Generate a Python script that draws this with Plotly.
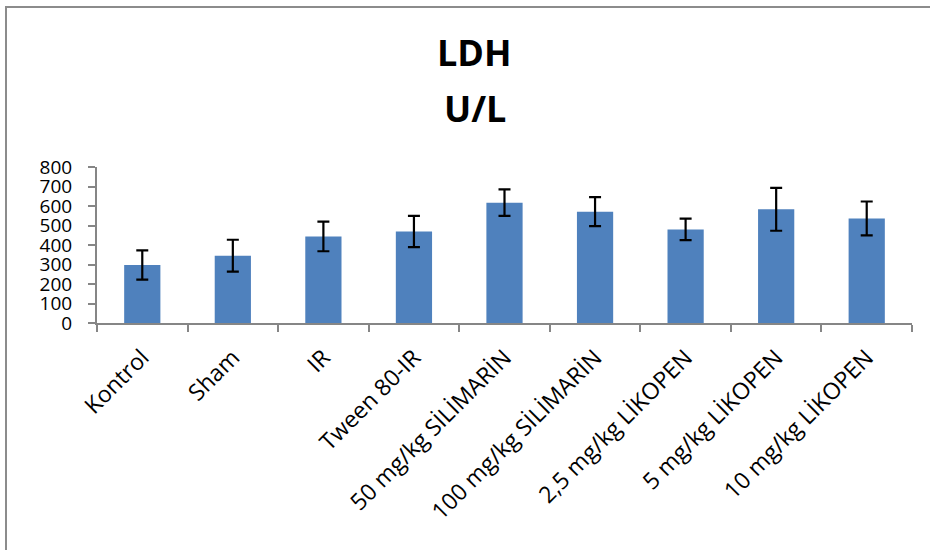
import plotly.graph_objects as go

# LDH activity (U/L) per experimental group, mean with error
groups = [
    "Kontrol", "Sham", "IR", "Tween 80-IR",
    "50 mg/kg SİLİMARİN", "100 mg/kg SİLİMARİN",
    "2,5 mg/kg LİKOPEN", "5 mg/kg LİKOPEN", "10 mg/kg LİKOPEN",
]
ldh_mean = [297, 345, 444, 469, 617, 571, 480, 583, 536]
ldh_err = [75, 82, 76, 80, 68, 74, 55, 110, 87]
y_ticks = [0, 100, 200, 300, 400, 500, 600, 700, 800]

W, H = 930, 550
L, R, T, B = 97, 18, 167, 227
plot_w = W - L - R
plot_h = H - T - B

FONT = "Open Sans"
AXIS_GREY = "#868686"


def px_x(px):
    return (px - L) / plot_w


def px_y(py):
    return (H - B - py) / plot_h


fig = go.Figure(
    go.Bar(
        x=groups,
        y=ldh_mean,
        marker=dict(color="#4F81BD", line=dict(width=0)),
        width=0.4,
        error_y=dict(
            type="data",
            array=ldh_err,
            visible=True,
            color="black",
            thickness=2.2,
            width=6,
        ),
    )
)

fig.update_layout(
    width=W,
    height=H,
    margin=dict(l=L, r=R, t=T, b=B, pad=0),
    paper_bgcolor="white",
    plot_bgcolor="white",
    showlegend=False,
    font=dict(family=FONT, color="black"),
    xaxis=dict(
        type="category",
        tickangle=-45,
        tickfont=dict(family=FONT, size=23, color="black"),
        showline=True,
        linecolor=AXIS_GREY,
        linewidth=2,
        ticks="outside",
        tickson="boundaries",
        ticklen=7,
        tickwidth=1.5,
        tickcolor=AXIS_GREY,
        showgrid=False,
        zeroline=False,
        ticklabelstandoff=10,
    ),
    yaxis=dict(
        range=[0, 800],
        tickvals=y_ticks,
        ticktext=[str(v) for v in y_ticks],
        tickfont=dict(family=FONT, size=19, color="black"),
        showline=True,
        linecolor=AXIS_GREY,
        linewidth=2,
        ticks="outside",
        ticklen=7,
        tickwidth=1.5,
        tickcolor=AXIS_GREY,
        showgrid=False,
        zeroline=False,
        ticklabelstandoff=12,
    ),
    shapes=[
        # chart frame
        dict(
            type="rect",
            xref="paper",
            yref="paper",
            x0=px_x(6),
            x1=px_x(945),
            y0=px_y(565),
            y1=px_y(7),
            line=dict(color="#8c8c8c", width=2),
            fillcolor="rgba(0,0,0,0)",
            layer="below",
        )
    ],
    annotations=[
        dict(
            text="<b>LDH</b>",
            xref="paper",
            yref="paper",
            x=px_x(474),
            y=px_y(53),
            xanchor="center",
            yanchor="middle",
            showarrow=False,
            font=dict(family=FONT, size=36, color="black"),
        ),
        dict(
            text="<b>U/L</b>",
            xref="paper",
            yref="paper",
            x=px_x(475),
            y=px_y(108),
            xanchor="center",
            yanchor="middle",
            showarrow=False,
            font=dict(family=FONT, size=36, color="black"),
        ),
    ],
)

fig.write_html("out.html")
